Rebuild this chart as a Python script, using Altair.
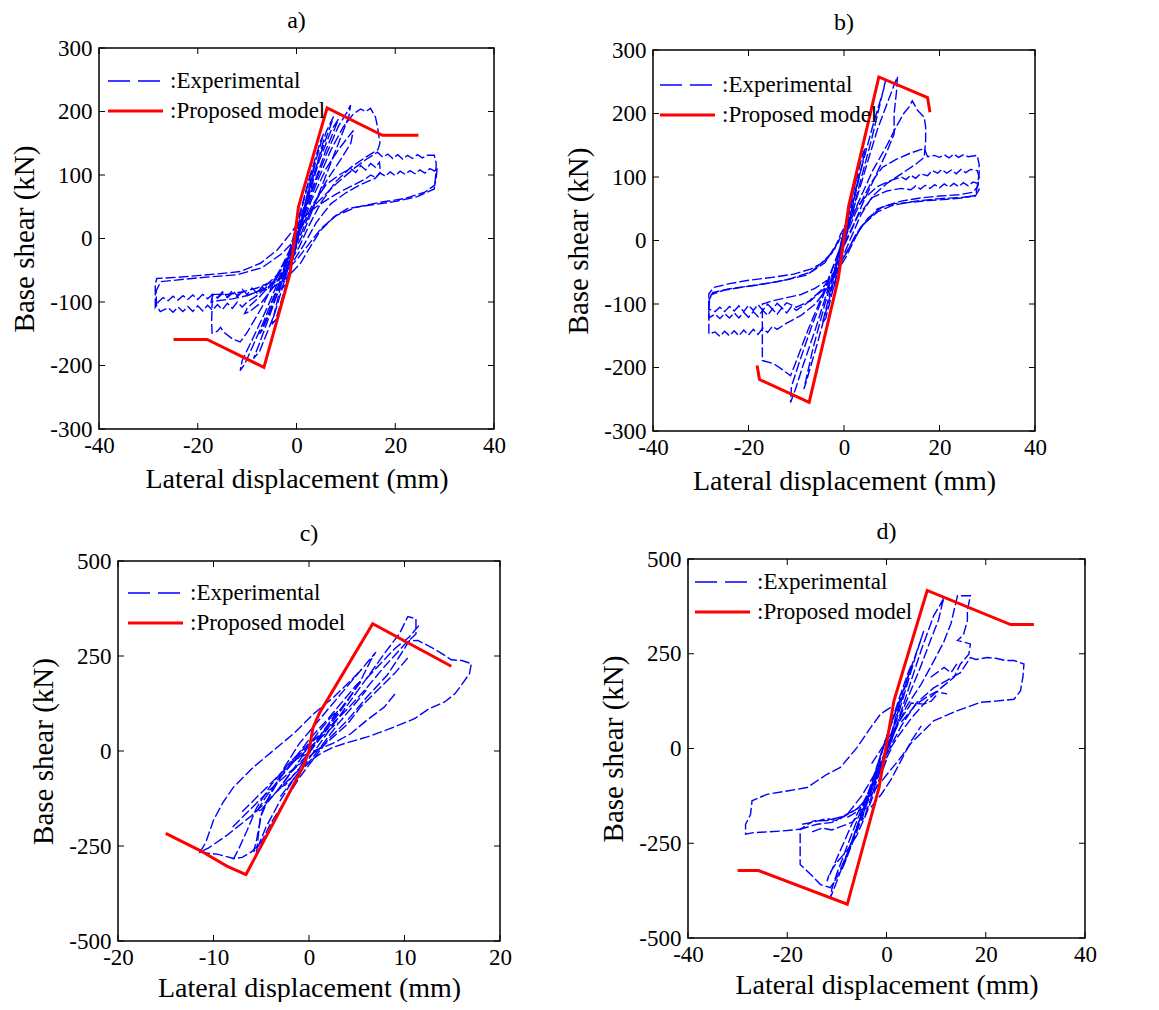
import altair as alt
import pandas as pd

FONT = "Liberation Serif"
BLUE = "#0000ff"
RED = "#ff0000"
LEG_LABELS = [":Experimental", ":Proposed model"]
TITLES = ["a)", "b)", "c)", "d)"]
X_TITLE = "Lateral displacement (mm)"
Y_TITLE = "Base shear (kN)"

XT_AB = [-40, -20, 0, 20, 40]
YT_AB = [-300, -200, -100, 0, 100, 200, 300]
XT_C = [-20, -10, 0, 10, 20]
XT_D = [-40, -20, 0, 20, 40]
YT_CD = [-500, -250, 0, 250, 500]

# ---------------- panel a ----------------
A_MODEL = [(-24.9, -159), (-18.1, -159), (-6.6, -203), (-1.3, -55), (0.4, 50),
           (6.2, 205.6), (17.4, 162.6), (24.7, 162.6)]
A_EXP = [
    [(0, 0), (1.2, 35), (2.5, 80), (3.5, 112), (2.8, 100), (1, 45), (-0.5, 0), (-1.5, -35),
     (-3, -80), (-2.2, -72), (-0.8, -30), (0.3, 5)],
    [(0.3, 5), (2, 60), (4, 125), (5.5, 165), (4.8, 152), (2.5, 92), (0.5, 35), (-1.5, -22),
     (-3.5, -85), (-5, -135), (-4.2, -128), (-2, -70), (0, -10), (1, 22)],
    [(1, 22), (3.5, 100), (6, 168), (7.5, 192), (7, 180), (4.5, 125), (2, 62), (0, 12),
     (-2.5, -52), (-5, -112), (-7.5, -165), (-8.7, -189), (-7.5, -178), (-4.5, -120),
     (-1.5, -42), (0.5, 15)],
    [(0.5, 15), (3, 72), (6, 132), (8.5, 177), (10.3, 200), (10.96, 210), (10.6, 192), (9, 160),
     (6.5, 110), (3.5, 50), (1, 2), (-1.5, -38), (-4, -80), (-6.5, -128), (-9, -172),
     (-10.5, -198), (-11.4, -208), (-11, -192), (-9, -160), (-6, -110), (-3, -55), (-0.5, -5),
     (1.5, 35)],
    [(1.5, 35), (4, 86), (7, 140), (9.5, 176), (11.5, 196), (13, 204), (14, 200), (15, 205),
     (16, 191), (16.4, 176), (16.9, 150), (16.5, 140), (14, 128), (11, 112), (8, 90), (5, 57),
     (2.5, 20), (0.5, -14), (-2, -46), (-5, -68), (-8, -78), (-11, -84), (-14, -88), (-17.1, -88),
     (-17.1, -110), (-17.2, -130), (-17.1, -149), (-16, -146), (-15.4, -140), (-14.5, -149),
     (-13, -158), (-11.4, -163), (-10, -148), (-7, -108), (-4, -60), (-1.5, -20), (1, 20)],
    [(1, 20), (4, 55), (8, 86), (11.6, 110), (14, 124), (16.4, 136), (17.5, 128), (18.5, 133),
     (19.5, 126), (20.5, 132), (21.5, 125), (22.5, 131), (23.5, 126), (24.5, 132), (25.5, 127),
     (26.5, 131), (27.9, 131), (28.3, 118), (28.2, 100), (27.9, 78), (24.5, 66), (19.8, 58),
     (14.3, 52), (10.3, 47), (7.6, 34), (4.9, 13), (2.8, -13), (0.8, -39), (-2, -62), (-5, -78),
     (-8, -84), (-10, -90), (-11, -84), (-12, -92), (-13, -86), (-14, -93), (-15, -87),
     (-16, -94), (-17, -88), (-18, -95), (-19, -88), (-20, -96), (-21, -89), (-22, -96),
     (-23, -90), (-24, -97), (-25, -91), (-26, -98), (-27, -93), (-28, -100), (-28.6, -108),
     (-28.6, -90), (-28.6, -72), (-28.3, -63), (-24, -61), (-19.5, -58), (-15, -55),
     (-11.4, -52), (-7.3, -39), (-3.9, -18), (-1.2, 8), (0.8, 29)],
    [(0.8, 29), (4, 50), (8, 70), (11, 82), (14, 94), (15, 100), (16, 96), (17, 103), (18, 98),
     (19, 105), (20, 99), (21, 106), (22, 101), (23, 107), (24, 102), (25, 108), (26, 103),
     (27, 110), (28, 106), (28.5, 112), (28.3, 95), (28, 84), (26, 73), (22, 63), (17, 57),
     (12, 49), (8, 36), (5, 16), (2, -14), (0, -34), (-3, -58), (-6, -76), (-8, -90),
     (-10, -100), (-11, -108), (-12, -100), (-13, -110), (-14, -102), (-15, -112), (-16, -104),
     (-17, -113), (-18, -105), (-19, -114), (-20, -106), (-21, -115), (-22, -107), (-23, -115),
     (-24, -108), (-25, -116), (-26, -109), (-27.6, -115), (-28.4, -105), (-28.4, -82),
     (-27.5, -68), (-20, -62), (-12, -57), (-7, -46), (-3, -24), (0, 0)],
    [(0, 0), (3, 50), (6, 85), (9, 102), (11, 110), (12, 104), (13, 115), (14, 108), (15, 118),
     (16, 112), (16.8, 120), (17, 105), (16, 95), (13, 85), (10, 72), (7, 55), (4, 25),
     (1.5, -10), (-1, -40), (-3, -62), (-5, -72), (-6, -82), (-7, -76), (-8, -86), (-9, -78),
     (-10, -88), (-11, -80), (-12, -90), (-13, -82), (-14, -92), (-15, -84), (-16, -93),
     (-17, -90), (-17.3, -100), (-16, -98), (-13, -95), (-10, -90), (-7, -80), (-4, -58),
     (-1.5, -25), (0, 0)],
    [(0, 0), (2, 55), (4.5, 120), (7, 170), (8.5, 188), (8, 178), (6, 140), (3.5, 85), (1, 30),
     (-1, -15), (-3, -60), (-5.5, -115), (-7.5, -150), (-7, -145), (-4.5, -100), (-2, -50),
     (0, -5)],
    [(0, -5), (3, 60), (6, 110), (8.5, 140), (10.5, 160), (11.5, 170), (11, 150), (9, 125),
     (6, 90), (3, 45), (0.5, 0), (-2, -40), (-4.5, -75), (-7, -100), (-9.5, -115),
     (-10.5, -118), (-10, -110), (-7.5, -92), (-4, -62), (-1, -20), (0, 0)],
]

# ---------------- panel b ----------------
B_MODEL = [(-18.2, -197), (-17.7, -219), (-7.3, -255), (-1.2, -60), (1.0, 55), (7.3, 257.5),
           (17.5, 225), (18.0, 202)]
B_EXP = [
    [(0, 0), (1, 30), (2.2, 70), (3.2, 105), (2.5, 95), (1, 45), (-0.5, 0), (-1.5, -35),
     (-2.8, -80), (-2, -72), (-0.8, -30), (0.3, 5)],
    [(0.3, 5), (2, 60), (3.8, 120), (4.5, 145), (4, 138), (2.2, 85), (0.5, 30), (-1.5, -30),
     (-3.2, -90), (-4.5, -130), (-3.8, -122), (-2, -68), (0, -8), (1, 22)],
    [(1, 22), (3.5, 95), (5.8, 160), (7.7, 220), (8.7, 252), (8.3, 238), (6, 180), (3.5, 110),
     (1, 40), (-1.5, -35), (-4, -100), (-6.5, -170), (-8.4, -234), (-8, -225), (-5.5, -160),
     (-3, -90), (-0.5, -15), (1, 25)],
    [(1, 25), (4, 100), (7, 175), (9.5, 225), (10.5, 245), (11.2, 258), (11, 235), (10.5, 200),
     (10.5, 168), (9, 140), (6.5, 100), (4, 60), (1.5, 15), (-1, -25), (-3.5, -80), (-6, -140),
     (-8.5, -195), (-10.2, -235), (-11.2, -255), (-11, -230), (-9.5, -195), (-7, -140),
     (-4, -80), (-1.5, -25), (0.5, 15)],
    [(0.5, 15), (3, 60), (6, 110), (9, 150), (11, 180), (12.5, 200), (13.6, 210), (14.3, 220),
     (15.4, 205), (16.8, 194), (17.1, 179), (17.1, 158), (16.8, 131), (15, 120), (12, 105),
     (9, 90), (6, 70), (3.5, 40), (1.5, 5), (-0.5, -30), (-3, -60), (-6, -75), (-9, -85),
     (-12, -90), (-15, -95), (-17.1, -100), (-17.1, -130), (-17.1, -160), (-17.1, -189),
     (-14.7, -194), (-12.6, -205), (-11.2, -213), (-10, -190), (-7.5, -140), (-5, -95),
     (-2.5, -45), (0, 0)],
    [(0, 0), (2.5, 45), (5.6, 90), (8, 115), (11, 128), (14, 138), (16.8, 145), (17.5, 132),
     (18.9, 134), (20, 131), (21, 135), (22, 130), (23, 136), (24, 131), (25, 135), (26, 132),
     (27.9, 134), (28.3, 120), (28.3, 105), (27.6, 71), (24.5, 67), (20, 64), (17.5, 63),
     (14, 60), (10.5, 58), (7, 50), (5.6, 37), (3.5, 21), (2.1, 0), (0.5, -25), (-1.5, -50),
     (-4, -75), (-7, -95), (-10, -105), (-12, -98), (-13, -106), (-14, -99), (-15, -108),
     (-16, -100), (-17, -110), (-18, -101), (-19, -110), (-20, -102), (-21, -112), (-22, -103),
     (-23, -111), (-24, -104), (-25, -112), (-26, -105), (-27, -112), (-28.3, -108),
     (-28.3, -95), (-28.3, -84), (-27.3, -74), (-24, -68), (-20.3, -63), (-15, -58),
     (-10.5, -53), (-7, -45), (-4.9, -37), (-2.1, -16), (-0.7, 10), (1.5, 40)],
    [(1.5, 40), (4, 65), (7, 85), (10, 95), (12, 100), (13, 96), (14, 103), (15, 98), (16, 105),
     (17.5, 102), (18.5, 110), (19.6, 106), (20.5, 112), (21.5, 106), (22.5, 111), (23.5, 105),
     (24.5, 112), (25.5, 107), (26.5, 112), (27.9, 110), (28.3, 100), (28, 85), (27, 76),
     (24, 72), (20, 70), (16, 67), (12, 62), (8, 53), (5, 35), (2.5, 10), (0.5, -20), (-2, -50),
     (-5, -80), (-8, -100), (-10, -110), (-11, -104), (-12, -114), (-13, -106), (-14, -116),
     (-15, -108), (-16, -118), (-17, -110), (-18, -120), (-19, -112), (-20, -121), (-21, -113),
     (-22, -122), (-23, -114), (-24, -122), (-25, -115), (-26, -123), (-27, -116),
     (-28.3, -122), (-28.3, -100), (-27.8, -85), (-25, -78), (-20, -72), (-14, -65), (-8, -55),
     (-4, -35), (-1.5, -5), (0.5, 20)],
    [(0, -5), (3, 40), (6, 68), (9, 78), (12, 82), (14, 80), (15, 86), (16, 81), (17, 87),
     (18, 82), (19, 88), (20, 83), (21, 89), (22, 84), (23, 90), (24, 85), (25, 91), (26, 86),
     (27, 92), (28, 90), (28.3, 80), (27.5, 70), (25, 68), (20, 66), (15, 62), (10, 55), (7, 45),
     (4, 25), (1.5, -5), (-1, -40), (-3.5, -75), (-6, -100), (-9, -118), (-12, -130),
     (-14, -140), (-15, -135), (-16, -145), (-17, -138), (-18, -148), (-19, -140), (-20, -149),
     (-21, -141), (-22, -150), (-23, -142), (-24, -150), (-25, -143), (-26, -151), (-27, -144),
     (-28.3, -147), (-28.3, -125), (-28.3, -95), (-27.5, -82), (-24, -76), (-18, -70),
     (-12, -62), (-7, -50), (-3, -25), (-1, 0)],
]

# ---------------- panel c ----------------
C_MODEL = [(-15, -217), (-11.4, -262), (-8.6, -303), (-6.6, -325), (-3, -155), (-0.6, -40),
           (0, 0), (0.4, 60), (1.1, 100), (6.67, 335), (14.9, 223)]
C_EXP = [
    [(0, 0), (1, 35), (2, 70), (3, 105), (2.5, 95), (1, 50), (0, 15), (-1, -25), (-2, -60),
     (-3, -95), (-2.5, -90), (-1, -45), (0, -5)],
    [(0, -5), (1.5, 50), (3, 100), (4.5, 150), (5.5, 185), (5, 175), (3.5, 130), (2, 85),
     (0, 30), (-1.5, -20), (-3, -70), (-4.5, -120), (-5.5, -160), (-5, -155), (-3.5, -110),
     (-2, -60), (0, -5)],
    [(0, -5), (2, 60), (4, 130), (5.5, 190), (6.5, 240), (7, 260), (6.5, 245), (5, 200),
     (3, 140), (1, 80), (-1, 20), (-2.5, -40), (-4, -110), (-5, -170), (-5.5, -235),
     (-5.8, -265), (-5.3, -250), (-4.5, -200), (-3, -130), (-1.5, -70), (0, -20)],
    [(0, -20), (2, 50), (4, 120), (6, 190), (8, 260), (9.5, 310), (10.35, 354), (11.2, 348),
     (11.2, 320), (11.2, 308), (10, 280), (8, 225), (6, 165), (4, 110), (2, 60), (0, 20),
     (-2, -30), (-4, -90), (-5.5, -150), (-6.5, -210), (-7.4, -260), (-7.9, -283), (-7, -280),
     (-6, -265), (-5, -240), (-4, -190), (-2.5, -130), (-1, -70), (0.5, -20)],
    [(0.5, -20), (2, 30), (4, 80), (6, 140), (8.2, 200), (9.5, 250), (10.5, 290), (11.4, 291),
     (12.8, 273), (14, 255), (14.9, 240), (16, 238), (17, 230), (16.8, 203), (15.3, 151),
     (14.2, 129), (12.5, 110), (11.05, 85), (8.9, 63), (6.1, 37), (4, 22), (2.6, 10.5),
     (1.2, -7), (0.2, -25), (-1.5, -60), (-3.5, -110), (-6, -170), (-8.5, -220), (-10.5, -255),
     (-11.4, -266), (-10.8, -240), (-10, -182), (-9, -135), (-7.9, -95), (-5.8, -42),
     (-3.7, 2), (-1.6, 46), (0.5, 98), (2.6, 142), (4.4, 186), (5.5, 215)],
    [(-11.4, -266), (-9.5, -272), (-7.9, -283)],
    [(-2, -30), (0, -5), (2.5, 20), (4.4, 46), (6, 80), (7.9, 116), (9, 150)],
    [(-8, -200), (-6, -150), (-4, -100), (-2, -55), (0, -15), (2, 25), (4, 70), (5.4, 116),
     (7.5, 168), (9, 205), (10.5, 250)],
    [(-5.5, -270), (-5.1, -173), (-4.4, -130), (-3, -70), (-1, -10), (1, 40)],
    [(-3, -120), (-1.5, -70), (0, -30), (1.5, 20), (3, 70), (4.5, 115), (6, 160)],
    [(-7, -160), (-5, -110), (-3, -60), (-1, -15), (1, 30), (3, 75)],
    [(6, 190), (7.5, 230), (9, 270), (10.5, 300), (11.5, 330)],
]

# ---------------- panel d ----------------
D_MODEL = [(-30, -322), (-25.8, -322), (-7.9, -411), (-1.5, -103), (1.5, 126), (8.2, 417),
           (25, 327), (29.7, 327)]
D_EXP = [
    [(0, 0), (1, 40), (2, 90), (3, 135), (2.4, 120), (1, 65), (-0.5, 10), (-1.5, -40),
     (-2.8, -100), (-2.2, -92), (-1, -50), (0, -10)],
    [(0, -10), (1.5, 60), (3.5, 150), (5, 220), (4.5, 205), (2.5, 130), (0.5, 50), (-1.5, -30),
     (-3.5, -120), (-5, -190), (-4.4, -180), (-2.5, -105), (-0.5, -25), (1, 30)],
    [(1, 30), (3.5, 140), (6, 250), (7.5, 310), (7, 290), (5, 215), (2.5, 120), (0, 30),
     (-2.5, -70), (-5, -170), (-7.5, -270), (-9, -320), (-8.5, -305), (-6, -220), (-3.5, -130),
     (-1, -40), (1, 20)],
    [(1, 20), (4, 140), (7, 260), (9.5, 350), (10.9, 381), (11.6, 399), (11.2, 380), (10.5, 340),
     (9, 290), (7, 220), (4.5, 140), (2, 60), (-0.5, -20), (-3, -100), (-5.5, -190), (-8, -280),
     (-10, -350), (-11.3, -394), (-11, -370), (-10, -330), (-8, -260), (-5.5, -175), (-3, -95),
     (-0.5, -15), (1.5, 40)],
    [(1.5, 40), (4, 110), (7, 170), (9.5, 230), (11.5, 280), (13, 330), (14.3, 403),
     (16.9, 403), (16.3, 364), (16.3, 337), (15.5, 300), (14.3, 285), (16.9, 276), (16.6, 249),
     (14.9, 223), (13.6, 188), (11, 160), (8, 125), (5, 80), (2.5, 35), (0, -15), (-2.5, -70),
     (-5, -125), (-8, -175), (-11, -195), (-14, -200), (-17.4, -213), (-17.4, -226),
     (-17.4, -260), (-17.4, -306), (-15.3, -332), (-13.3, -359), (-11.3, -367), (-10, -340),
     (-8, -280), (-6, -210), (-4, -140), (-2, -75), (0, -15)],
    [(0, -15), (3, 60), (6, 120), (9.5, 160), (12.2, 180), (14.9, 200), (16.9, 240), (18, 235),
     (20.3, 240), (22, 238), (24, 232), (25.7, 232), (27.7, 223), (27.5, 190), (27, 152),
     (25.7, 130), (22, 125), (19, 122), (14.3, 100), (9.5, 73), (7.5, 47), (5, 15), (2.5, -30),
     (0, -70), (-3, -120), (-6, -160), (-9, -180), (-12, -190), (-14.7, -191), (-17.4, -213),
     (-21.4, -218), (-24, -220), (-26.8, -222), (-28.4, -226), (-28.4, -200), (-27.4, -174),
     (-27.1, -138), (-24.1, -121), (-20, -112), (-16, -103), (-12, -68), (-9.3, -50),
     (-5.9, 3), (-3.2, 55), (-1.2, 91), (1, 110)],
    [(-7.9, -182), (-5, -160), (-3.2, -156), (-1, -120), (1, -80), (3, -30), (5, 20), (7, 60)],
    [(3, 70), (6, 117), (8, 135), (10, 150), (12.2, 144)],
    [(-3, -40), (0, 20), (3, 80), (5, 120), (7.5, 117), (9, 125), (10, 140)],
    [(8.9, 188), (11.6, 214), (13, 200), (14.5, 230)],
    [(0, -30), (-2, -100), (-4, -170), (-6, -230), (-8, -270), (-10, -300), (-11.5, -330),
     (-12, -350), (-11, -320), (-9, -260), (-7, -200), (-5, -150), (-3, -100), (-1, -50),
     (1, 0)],
    [(-17, -200), (-15, -195), (-12, -185), (-10, -190), (-8, -175), (-6, -160), (-4, -140),
     (-2, -100)],
    [(-15, -220), (-13, -210), (-11, -215), (-9, -205), (-7, -195), (-5, -170)],
]

# canvas (inside the 8px page margin) and plot frames: left, right, top, bottom
CW, CH = 1143, 994
BOX_A = (91, 486, 40, 421)
BOX_B = (645, 1027, 42, 423)
BOX_C = (110, 492, 553, 933)
BOX_D = (680, 1077, 551, 930)


def panel(loops, model, xt, yt, box, title, leg_dx, leg_dy, xtitle_pad):
    L, R, T, B = box
    rows = []
    for i, lp in enumerate(loops):
        for j, (x, y) in enumerate(lp):
            rows.append({"x": x, "y": y, "g": i, "o": j})
    exp_df = pd.DataFrame(rows)
    mod_df = pd.DataFrame([{"x": x, "y": y, "o": j} for j, (x, y) in enumerate(model)])

    xs = alt.Scale(domain=[xt[0], xt[-1]], range=[L, R], nice=False, zero=False)
    ys = alt.Scale(domain=[yt[0], yt[-1]], range=[B, T], nice=False, zero=False)
    ax = dict(labelExpr="datum.value + ''", labelFont=FONT, titleFont=FONT,
              labelFontSize=23, labelColor="black", titleColor="black",
              titleFontWeight="normal", grid=False, domain=False, ticks=False,
              labelFlush=False, labelOverlap=False)
    xax = alt.Axis(orient="bottom", offset=B - CH, values=xt, title=X_TITLE,
                   titleFontSize=28, labelPadding=5, titlePadding=xtitle_pad, **ax)
    yax = alt.Axis(orient="left", offset=-L, values=yt, title=Y_TITLE,
                   titleFontSize=29, labelPadding=7, titlePadding=10, **ax)

    def X(f):
        return alt.X(f"{f}:Q", scale=xs, axis=xax)

    def Y(f):
        return alt.Y(f"{f}:Q", scale=ys, axis=yax)

    exp = alt.Chart(exp_df).mark_line(color=BLUE, strokeWidth=1.4, strokeDash=[10, 3]).encode(
        x=X("x"), y=Y("y"), detail="g:N", order="o:Q")
    mod = alt.Chart(mod_df).mark_line(color=RED, strokeWidth=3).encode(
        x=X("x"), y=Y("y"), order="o:Q")

    frame_df = pd.DataFrame({"x0": [xt[0]], "x1": [xt[-1]], "y0": [yt[0]], "y1": [yt[-1]]})
    frame = alt.Chart(frame_df).mark_rect(fillOpacity=0, stroke="black", strokeWidth=1.5).encode(
        x=X("x0"), x2="x1", y=Y("y0"), y2="y1")

    xt_df = pd.DataFrame({"v": xt, "lo": yt[0], "hi": yt[-1]})
    yt_df = pd.DataFrame({"v": yt, "lo": xt[0], "hi": xt[-1]})
    tk = dict(color="black", strokeWidth=1)
    t_bot = alt.Chart(xt_df).mark_rule(y2Offset=-6, **tk).encode(x=X("v"), y=Y("lo"), y2="lo")
    t_top = alt.Chart(xt_df).mark_rule(y2Offset=6, **tk).encode(x=X("v"), y=Y("hi"), y2="hi")
    t_lft = alt.Chart(yt_df).mark_rule(x2Offset=6, **tk).encode(y=Y("v"), x=X("lo"), x2="lo")
    t_rgt = alt.Chart(yt_df).mark_rule(x2Offset=-6, **tk).encode(y=Y("v"), x=X("hi"), x2="hi")

    # title above the frame
    ttl_df = pd.DataFrame({"x": [(xt[0] + xt[-1]) / 2], "y": [yt[-1]], "t": [title]})
    ttl = alt.Chart(ttl_df).mark_text(dy=-27, baseline="middle", align="center", font=FONT,
                                      fontSize=24, color="black").encode(
        x=X("x"), y=Y("y"), text="t:N")

    # legend anchored at the frame's top-left corner
    l1 = pd.DataFrame({"x": [xt[0]], "y": [yt[-1]], "t": [LEG_LABELS[0]]})
    l2 = pd.DataFrame({"x": [xt[0]], "y": [yt[-1]], "t": [LEG_LABELS[1]]})
    lr1 = alt.Chart(l1).mark_rule(color=BLUE, strokeWidth=1.4, strokeDash=[22, 8],
                                  xOffset=leg_dx, x2Offset=leg_dx + 55, yOffset=leg_dy).encode(
        x=X("x"), x2="x", y=Y("y"))
    lr2 = alt.Chart(l2).mark_rule(color=RED, strokeWidth=3,
                                  xOffset=leg_dx, x2Offset=leg_dx + 55, yOffset=leg_dy + 30).encode(
        x=X("x"), x2="x", y=Y("y"))
    txt = dict(align="left", baseline="middle", font=FONT, fontSize=23, color="black")
    lt1 = alt.Chart(l1).mark_text(dx=leg_dx + 62, dy=leg_dy, **txt).encode(
        x=X("x"), y=Y("y"), text="t:N")
    lt2 = alt.Chart(l2).mark_text(dx=leg_dx + 62, dy=leg_dy + 30, **txt).encode(
        x=X("x"), y=Y("y"), text="t:N")

    return alt.layer(exp, mod, frame, t_bot, t_top, t_lft, t_rgt, ttl, lr1, lr2, lt1, lt2)


pa = panel(A_EXP, A_MODEL, XT_AB, YT_AB, BOX_A, TITLES[0], 9, 33, 8)
pb = panel(B_EXP, B_MODEL, XT_AB, YT_AB, BOX_B, TITLES[1], 7, 35, 8)
pc = panel(C_EXP, C_MODEL, XT_C, YT_CD, BOX_C, TITLES[2], 10, 32, 5)
pd_ = panel(D_EXP, D_MODEL, XT_D, YT_CD, BOX_D, TITLES[3], 7, 23, 5)

chart = alt.layer(pa, pb, pc, pd_).resolve_scale(
    x="independent", y="independent"
).resolve_axis(
    x="independent", y="independent"
).properties(
    width=CW, height=CH, padding=0, autosize=alt.AutoSizeParams(type="none")
).configure(background="white").configure_view(stroke="white", strokeOpacity=0)

chart.save("out.html", embed_options={"renderer": "svg", "actions": False})
